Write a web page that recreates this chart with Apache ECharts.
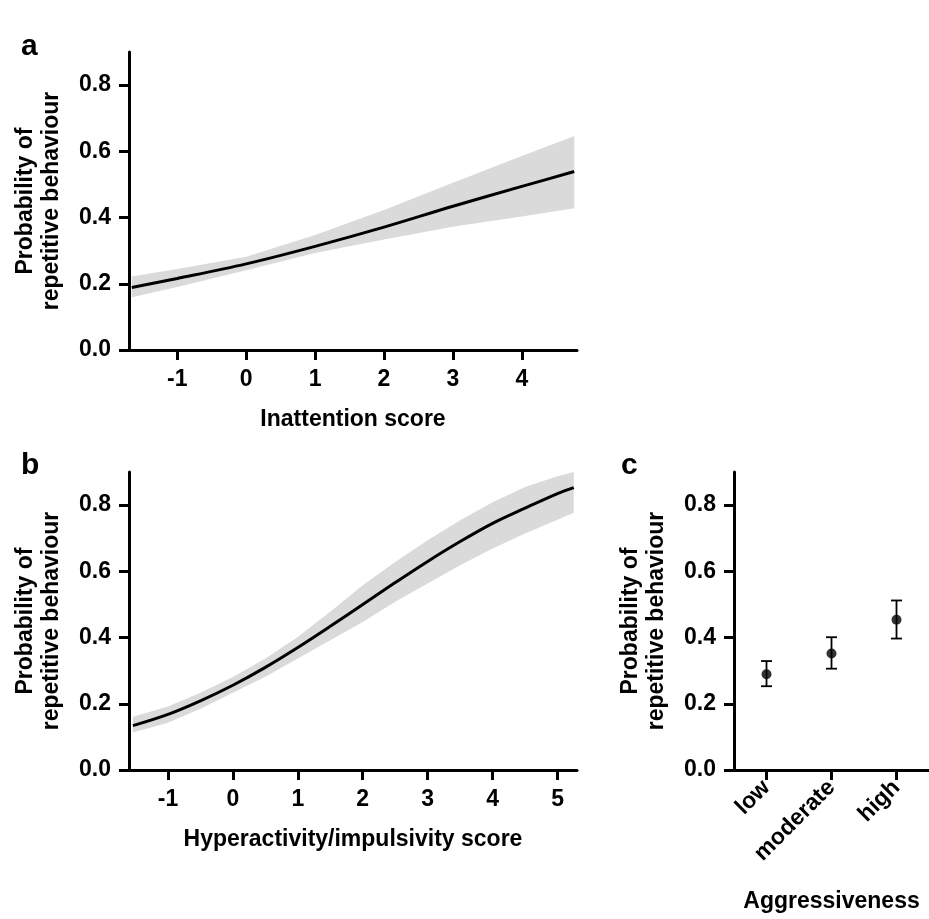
<!DOCTYPE html>
<html>
<head>
<meta charset="utf-8">
<script src="https://cdn.jsdelivr.net/npm/echarts@6/dist/echarts.min.js"></script>
<style>
html,body{margin:0;padding:0;background:#fff;}
#chart{width:929px;height:919px;}
</style>
</head>
<body>
<div id="chart"></div>
<script>
// ---------- Data ----------
// Panel a: Inattention score
const aX     = [-1.66, -1, 0, 1, 2, 3, 4, 4.76];
const aFit   = [0.189, 0.216, 0.260, 0.313, 0.371, 0.434, 0.494, 0.539];
const aLower = [0.159, 0.190, 0.241, 0.293, 0.334, 0.372, 0.403, 0.428];
const aUpper = [0.222, 0.245, 0.282, 0.347, 0.423, 0.505, 0.586, 0.646];
const aTicks = [-1, 0, 1, 2, 3, 4];

// Panel b: Hyperactivity/impulsivity score
const bX     = [-1.54, -1, -0.5, 0, 0.5, 1, 1.5, 2, 2.5, 3, 3.5, 4, 4.5, 5, 5.25];
const bFit   = [0.134, 0.168, 0.209, 0.256, 0.310, 0.370, 0.434, 0.500, 0.566, 0.630, 0.690, 0.745, 0.791, 0.835, 0.853];
const bLower = [0.113, 0.143, 0.185, 0.233, 0.282, 0.337, 0.392, 0.447, 0.508, 0.563, 0.618, 0.669, 0.714, 0.756, 0.777];
const bUpper = [0.161, 0.192, 0.233, 0.281, 0.337, 0.402, 0.478, 0.558, 0.628, 0.694, 0.754, 0.809, 0.855, 0.887, 0.900];
const bTicks = [-1, 0, 1, 2, 3, 4, 5];

// Panel c: Aggressiveness
const cCats  = ['low', 'moderate', 'high'];
const cMean  = [0.289, 0.352, 0.454];
const cLower = [0.253, 0.306, 0.397];
const cUpper = [0.329, 0.401, 0.512];

const yTicks = [0, 0.2, 0.4, 0.6, 0.8];

// ---------- Styles ----------
const FONT = "'Liberation Sans', Arial, Helvetica, sans-serif";
const BAND = '#d9dad9';
const labelStyle = {color:'#000', fontSize:23, fontWeight:'bold', fontFamily:FONT};
const nameStyle  = {color:'#000', fontSize:23, fontWeight:'bold', fontFamily:FONT, lineHeight:26};
const axisLine = {show:true, onZero:false, lineStyle:{color:'#000', width:3}};
const axisTick = {show:true, length:10, lineStyle:{color:'#000', width:3}};

function pairs(xs, ys){ return xs.map((x,i)=>[x, ys[i]]); }

function valueX(grid, min, max, ticks, name){
  return {
    gridIndex:grid, type:'value', min:min, max:max,
    axisLine:axisLine,
    axisTick:Object.assign({customValues:ticks}, axisTick),
    axisLabel:Object.assign({customValues:ticks, margin:18, formatter:v=>String(v)}, labelStyle),
    splitLine:{show:false},
    name:name, nameLocation:'middle', nameGap:57, nameTextStyle:nameStyle
  };
}
function valueY(grid){
  return {
    gridIndex:grid, type:'value', min:0, max:0.9,
    axisLine:axisLine,
    axisTick:Object.assign({customValues:yTicks}, axisTick),
    axisLabel:Object.assign({customValues:yTicks, margin:18, formatter:v=>v.toFixed(1)}, labelStyle),
    splitLine:{show:false},
    name:'Probability of\nrepetitive behaviour', nameLocation:'middle', nameGap:64,
    nameTextStyle:nameStyle
  };
}
function bandRender(params, api){
  if (params.dataIndexInside !== 0) return null;
  const n = params.dataInsideLength;
  const upper = [], lower = [];
  for (let j = 0; j < n; j++){
    const x = api.value(0, j);
    lower.push(api.coord([x, api.value(1, j)]));
    upper.push(api.coord([x, api.value(2, j)]));
  }
  const pts = upper.concat(lower.reverse());
  return {type:'polygon', shape:{points:pts}, style:{fill:BAND, stroke:null}};
}
function bandSeries(idx, xs, lo, hi, fit){
  return [
    {type:'custom', xAxisIndex:idx, yAxisIndex:idx,
     data:xs.map((x,i)=>[x, lo[i], hi[i]]), encode:{x:0, y:[1,2]},
     renderItem:bandRender, silent:true, z:1},
    {type:'line', xAxisIndex:idx, yAxisIndex:idx, data:pairs(xs, fit),
     symbol:'none', smooth:0.35, lineStyle:{color:'#000', width:3}, z:3}
  ];
}

const chart = echarts.init(document.getElementById('chart'), null, {renderer:'canvas'});
const option = {
  animation:false,
  backgroundColor:'#fff',
  graphic:[
    {type:'text', x:21, y:32, style:{text:'a', font:"bold 30px "+FONT, fill:'#000', textVerticalAlign:'alphabetic'}},
    {type:'text', x:21, y:451, style:{text:'b', font:"bold 30px "+FONT, fill:'#000', textVerticalAlign:'alphabetic'}},
    {type:'text', x:621, y:451, style:{text:'c', font:"bold 30px "+FONT, fill:'#000', textVerticalAlign:'alphabetic'}}
  ],
  grid:[
    {left:129, top:52, width:448, height:298},
    {left:129, top:472, width:448, height:298},
    {left:734, top:472, width:198, height:298}
  ],
  xAxis:[
    valueX(0, -1.7, 4.8, aTicks, 'Inattention score'),
    valueX(1, -1.6, 5.3, bTicks, 'Hyperactivity/impulsivity score'),
    {gridIndex:2, type:'category', data:cCats, boundaryGap:true,
     axisLine:axisLine,
     axisTick:Object.assign({alignWithLabel:true, interval:0}, axisTick),
     axisLabel:Object.assign({rotate:45, margin:14, interval:0}, labelStyle),
     name:'Aggressiveness', nameLocation:'middle', nameGap:119, nameTextStyle:nameStyle}
  ],
  yAxis:[valueY(0), valueY(1), valueY(2)],
  series:[
    ...bandSeries(0, aX, aLower, aUpper, aFit),
    ...bandSeries(1, bX, bLower, bUpper, bFit),
    {type:'custom', xAxisIndex:2, yAxisIndex:2,
     data:cCats.map((c,i)=>[i, cLower[i], cUpper[i]]),
     encode:{x:0, y:[1,2]},
     renderItem:function(params, api){
       const x = api.value(0);
       const lo = api.coord([x, api.value(1)]);
       const hi = api.coord([x, api.value(2)]);
       const w = 5.5;
       const st = {stroke:'#000', lineWidth:1.8};
       return {type:'group', children:[
         {type:'line', shape:{x1:lo[0], y1:lo[1], x2:hi[0], y2:hi[1]}, style:st},
         {type:'line', shape:{x1:lo[0]-w, y1:lo[1], x2:lo[0]+w, y2:lo[1]}, style:st},
         {type:'line', shape:{x1:hi[0]-w, y1:hi[1], x2:hi[0]+w, y2:hi[1]}, style:st}
       ]};
     }, z:2},
    {type:'scatter', xAxisIndex:2, yAxisIndex:2, data:cMean.map((v,i)=>[i, v]),
     symbol:'circle', symbolSize:10, itemStyle:{color:'#000'}, z:3}
  ]
};
chart.setOption(option);
</script>
</body>
</html>
